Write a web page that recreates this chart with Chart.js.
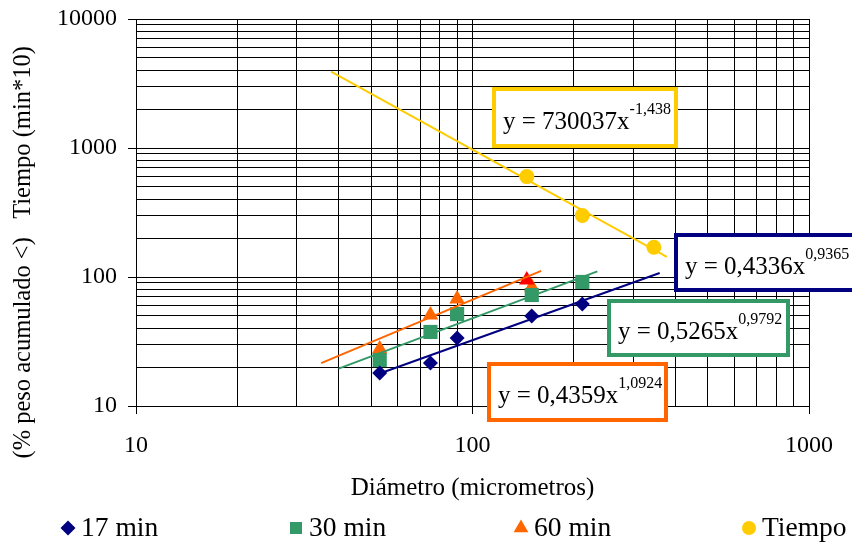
<!DOCTYPE html>
<html>
<head>
<meta charset="utf-8">
<script src="https://cdn.jsdelivr.net/npm/chart.js@4.4.0/dist/chart.umd.min.js"></script>
<style>
  html, body { margin: 0; padding: 0; background: #fff; }
  canvas { display: block; }
</style>
</head>
<body>
<canvas id="myChart" width="852" height="543"></canvas>
<script>
// diametro (micrometros) y % peso acumulado
const diam17 = [53, 75, 90, 150, 212];
const peso17 = [18, 21.5, 33.7, 49.8, 61.8];
const diam30 = [53, 75, 90, 150, 212];
const peso30 = [22.7, 37.5, 51.6, 72.5, 91.5];
const diam60 = [53, 75, 90, 150, 145];
const peso60 = [27.7, 50.8, 67.5, 83.6, 94.8];
const diamTiempo = [145, 212, 346];
const tiempo = [600, 300, 170];

const series = ["17 min", "30 min", "60 min", "Tiempo"];
const colores = ["#000080", "#339966", "#FF6600", "#FFCC00"];

// lineas de tendencia  y = a * x^b
const tendA = [0.4336, 0.5265, 0.4359, 730037];
const tendB = [0.9365, 0.9792, 1.0924, -1.438];
const tendDesde = [52, 40, 35.5, 38];
const tendHasta = [360, 235, 160, 378];
const ecuaciones = ["y = 0,4336x", "y = 0,5265x", "y = 0,4359x", "y = 730037x"];
const exponentes = ["0,9365", "0,9792", "1,0924", "-1,438"];

const xTicks = [10, 100, 1000];
const yTicks = [10, 100, 1000, 10000];

const fuente = "'Liberation Serif', 'Times New Roman', serif";

function puntos(xs, ys) {
  return xs.map((x, i) => ({x: x, y: ys[i]}));
}

function tendencia(i) {
  return [tendDesde[i], tendHasta[i]].map(x => ({x: x, y: tendA[i] * Math.pow(x, tendB[i])}));
}

// lineas de la grilla: 1..9 en cada decada
function logTicks(decadas) {
  const t = [];
  for (let d = 0; d < decadas.length - 1; d++) {
    for (let k = 1; k < 10; k++) t.push({value: k * decadas[d], major: k === 1});
  }
  t.push({value: decadas[decadas.length - 1], major: true});
  return t;
}

// cuadros con las ecuaciones
const cuadros = [
  {x: 674, y: 233, w: 184, h: 59},
  {x: 607, y: 299, w: 183, h: 58},
  {x: 487, y: 362, w: 181, h: 60},
  {x: 492, y: 87, w: 186, h: 61}
];

const ecuacionesPlugin = {
  id: 'ecuaciones',
  afterDraw(chart) {
    const ctx = chart.ctx;
    ctx.save();
    cuadros.forEach((c, i) => {
      ctx.fillStyle = '#fff';
      ctx.fillRect(c.x, c.y, c.w, c.h);
      ctx.strokeStyle = colores[i];
      ctx.lineWidth = 4;
      ctx.strokeRect(c.x + 2, c.y + 2, c.w - 4, c.h - 4);
      const mid = c.y + c.h / 2;
      ctx.fillStyle = '#000';
      ctx.textBaseline = 'alphabetic';
      ctx.textAlign = 'left';
      ctx.font = "25px " + fuente;
      ctx.fillText(ecuaciones[i], c.x + 11, mid + 11);
      const w = ctx.measureText(ecuaciones[i]).width;
      ctx.font = "16px " + fuente;
      ctx.fillText(exponentes[i], c.x + 11 + w, mid - 4);
    });

    // leyenda
    const lx = [68, 296, 521, 749];
    const estilos = ['rectRot', 'rect', 'triangle', 'circle'];
    const radios = [7.5, 8.5, 8.5, 7];
    const ly = 528;
    series.forEach((s, i) => {
      ctx.fillStyle = colores[i];
      ctx.strokeStyle = colores[i];
      ctx.lineWidth = 0;
      Chart.helpers.drawPoint(ctx, {pointStyle: estilos[i], radius: radios[i], borderWidth: 0, rotation: 0}, lx[i], ly);
      ctx.fillStyle = '#000';
      ctx.font = "27.5px " + fuente;
      ctx.textBaseline = 'middle';
      ctx.fillText(s, lx[i] + 13, ly + 1);
    });
    ctx.restore();
  }
};

const ctx = document.getElementById('myChart');
new Chart(ctx, {
  type: 'scatter',
  data: {
    datasets: [
      {label: series[0], data: puntos(diam17, peso17), pointStyle: 'rectRot', pointRadius: 7.5,
        backgroundColor: colores[0], borderColor: colores[0], pointBorderWidth: 0, order: 1},
      {label: series[1], data: puntos(diam30, peso30), pointStyle: 'rect', pointRadius: 10,
        backgroundColor: colores[1], borderColor: colores[1], pointBorderWidth: 0, order: 1},
      {label: series[2], data: puntos(diam60, peso60), pointStyle: 'triangle', pointRadius: 9,
        backgroundColor: [colores[2], colores[2], colores[2], colores[2], '#FF0000'],
        borderColor: colores[2], pointBorderWidth: 0, order: 1},
      {label: series[3], data: puntos(diamTiempo, tiempo), pointStyle: 'circle', pointRadius: 7.5,
        backgroundColor: colores[3], borderColor: colores[3], pointBorderWidth: 0, order: 1},
      {label: 'tend 17', data: tendencia(0), showLine: true, pointRadius: 0, borderColor: colores[0], borderWidth: 2, order: 0},
      {label: 'tend 30', data: tendencia(1), showLine: true, pointRadius: 0, borderColor: colores[1], borderWidth: 2, order: 0},
      {label: 'tend 60', data: tendencia(2), showLine: true, pointRadius: 0, borderColor: colores[2], borderWidth: 2, order: 0},
      {label: 'tend Tiempo', data: tendencia(3), showLine: true, pointRadius: 0, borderColor: colores[3], borderWidth: 2, order: 0}
    ]
  },
  options: {
    responsive: false,
    animation: false,
    layout: {padding: {top: 19, right: 43, bottom: 37, left: 0}},
    plugins: {
      legend: {display: false},
      tooltip: {enabled: false}
    },
    scales: {
      x: {
        type: 'logarithmic',
        min: 10,
        max: 1000,
        afterBuildTicks: s => { s.ticks = logTicks(xTicks); },
        afterFit: s => { s.height = 100; s.paddingLeft = 0; s.paddingRight = 0; },
        grid: {
          color: '#000',
          lineWidth: 1,
          tickLength: 8,
          tickColor: c => (c.tick && xTicks.includes(c.tick.value)) ? '#000' : 'rgba(0,0,0,0)'
        },
        border: {color: '#000', width: 1},
        ticks: {
          autoSkip: false,
          maxRotation: 0,
          padding: 17,
          color: '#000',
          font: {family: fuente, size: 24},
          callback: v => xTicks.includes(v) ? String(v) : ''
        },
        title: {
          display: true,
          text: 'Diámetro (micrometros)',
          color: '#000',
          font: {family: fuente, size: 25, lineHeight: 1.2},
          padding: {top: 0, bottom: 3}
        }
      },
      y: {
        type: 'logarithmic',
        min: 10,
        max: 10000,
        afterBuildTicks: s => { s.ticks = logTicks(yTicks); },
        afterFit: s => { s.width = 136; s.paddingTop = 0; s.paddingBottom = 0; },
        grid: {
          color: '#000',
          lineWidth: 1,
          tickLength: 8,
          tickColor: c => (c.tick && yTicks.includes(c.tick.value)) ? '#000' : 'rgba(0,0,0,0)'
        },
        border: {color: '#000', width: 1},
        ticks: {
          autoSkip: false,
          padding: 11,
          color: '#000',
          font: {family: fuente, size: 24},
          callback: v => yTicks.includes(v) ? String(v) : ''
        },
        title: {
          display: true,
          text: '(% peso acumulado <)   Tiempo (min*10)' + '\u00a0'.repeat(13),
          color: '#000',
          font: {family: fuente, size: 24.5, lineHeight: 1.2},
          padding: {top: 9, bottom: 0}
        }
      }
    }
  },
  plugins: [ecuacionesPlugin]
});
</script>
</body>
</html>
